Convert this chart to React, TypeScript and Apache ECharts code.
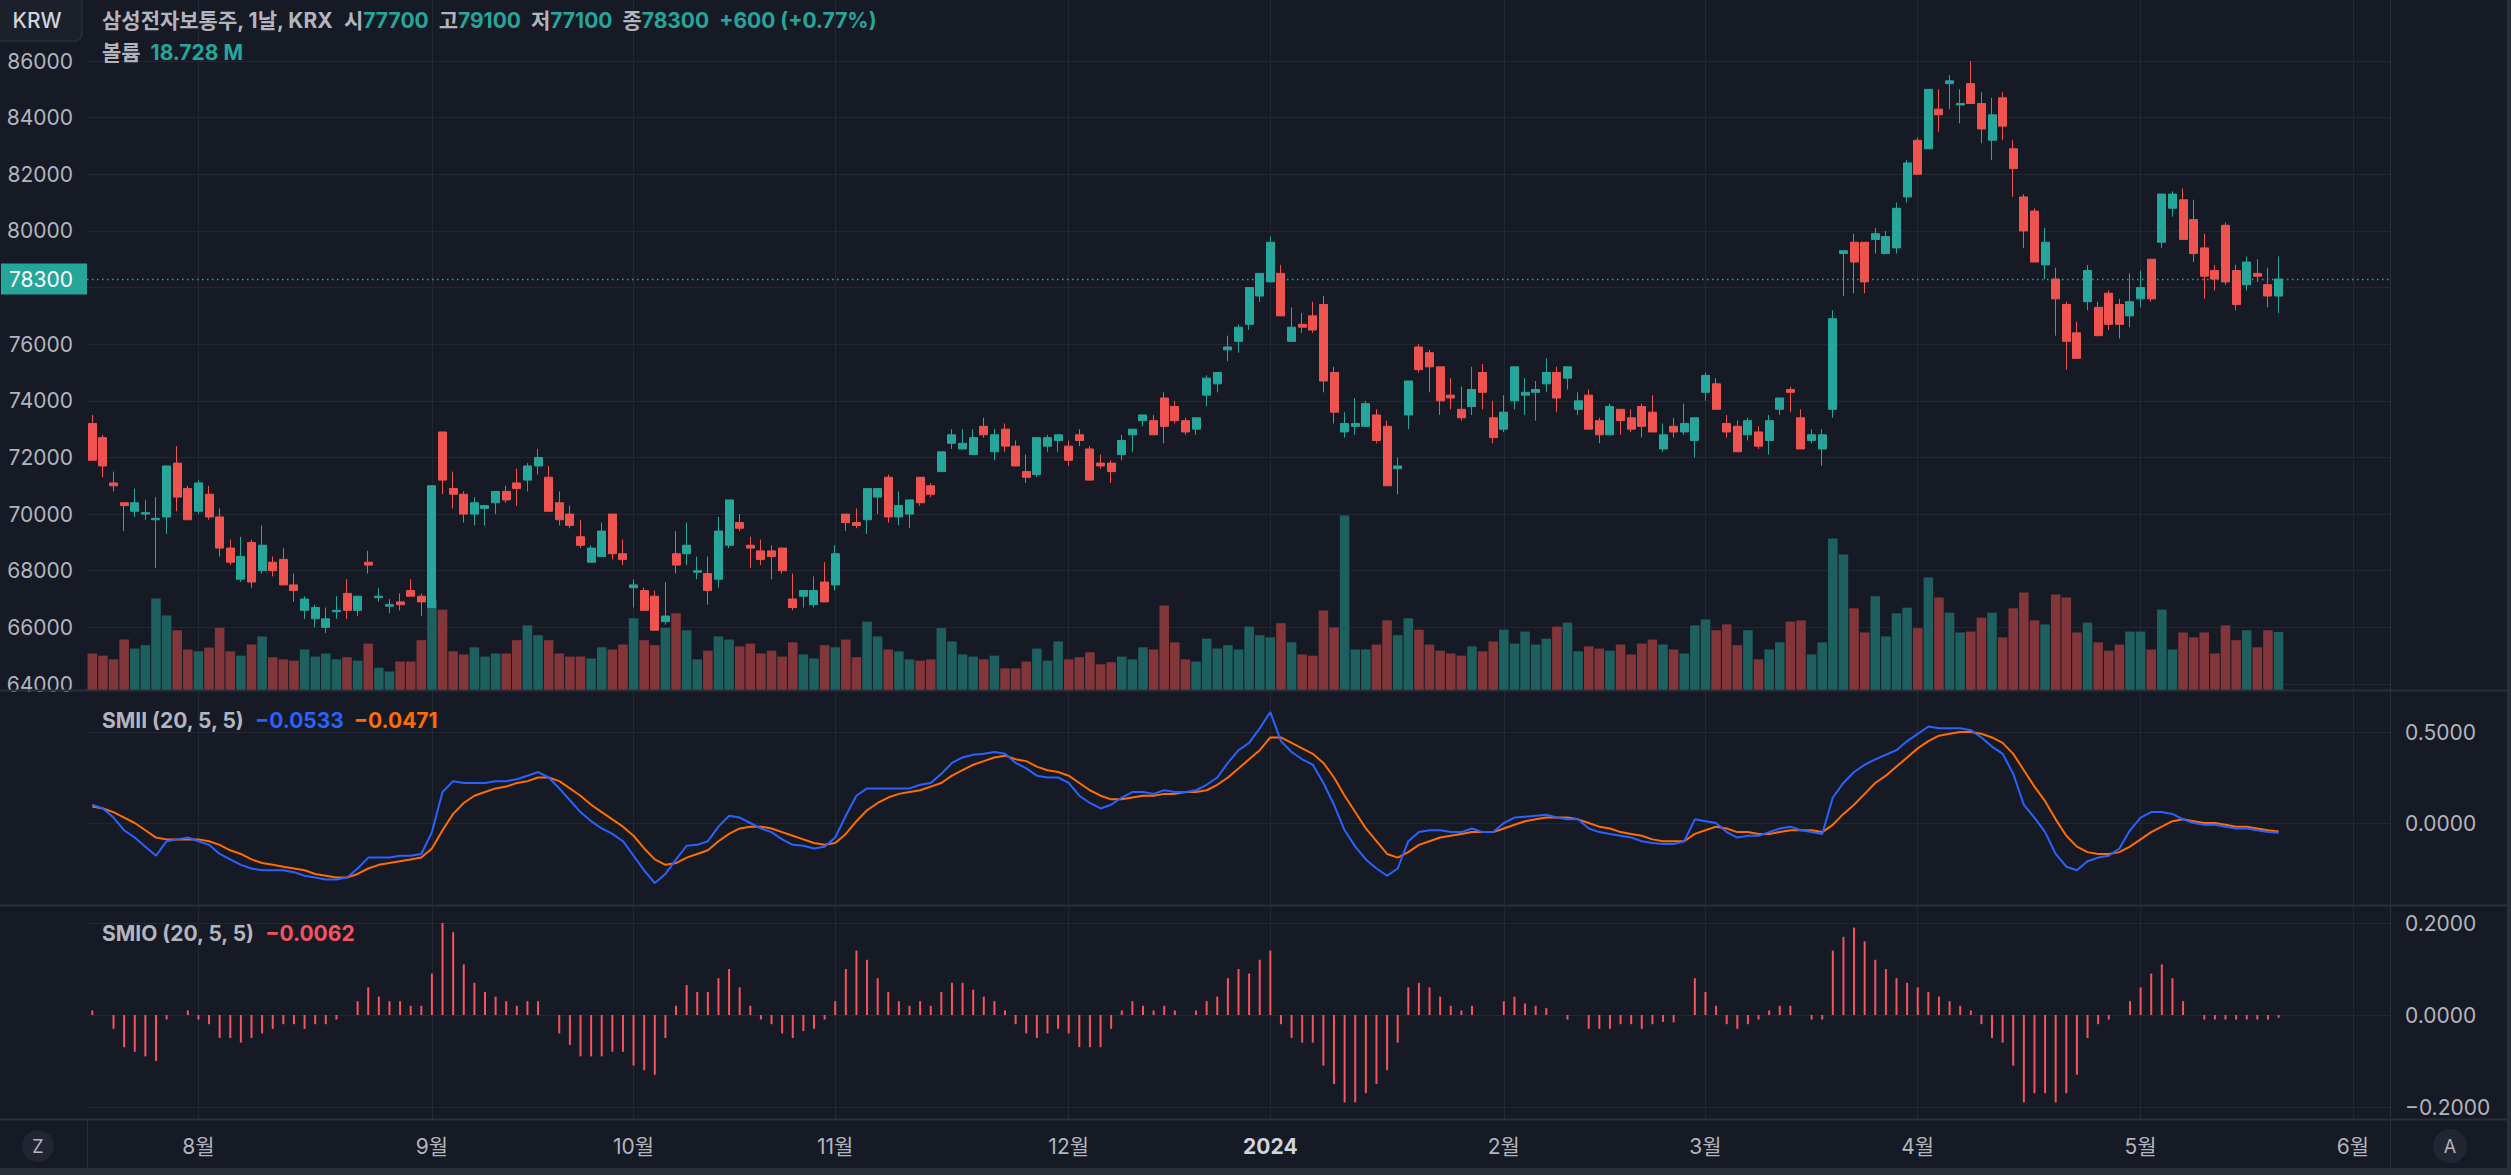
import React, { useEffect, useRef } from "react";
import * as echarts from "echarts";

const FONT = 'Inter, "Noto Sans CJK KR", "Noto Sans", sans-serif';

// ---------- data ----------
const openPrices = [73200,72700,71100,70400,70100,70000,69800,69900,71800,70900,
70100,70700,69900,68800,67700,69000,68000,68300,68400,67500,
66600,66300,66000,66550,67200,66600,68300,67050,66750,66900,
67300,67100,66700,72900,70900,70700,70000,70200,70400,70800,
71100,71200,71700,71300,70400,70000,69200,68300,68500,70000,
68600,67400,67300,67100,66200,68600,68600,67950,67900,67700,
68900,69700,68900,68700,68700,68800,67000,67100,66800,67600,
67500,70000,69700,69800,70600,71300,69900,70000,71300,71000,
71500,72500,72300,72100,73100,72200,73000,72400,71500,71400,
72400,72600,72400,72800,72300,71800,71800,72100,72800,73300,
73300,74100,73800,73300,73000,74200,74600,75800,76100,76700,
77700,78200,78500,76100,76700,77000,77400,75000,72900,73100,
73100,73500,73100,71600,73500,75900,75700,75200,74200,73700,
73800,75000,73400,73000,74000,74200,74300,74600,75000,74800,
73700,74200,73300,72800,73700,73400,73800,73600,72300,73100,
72900,72600,74300,74600,73200,73100,72800,72900,72600,73700,
74400,73400,72600,72300,73700,79200,79600,79600,79700,79200,
79400,81200,83200,82900,84300,85200,84450,85200,84500,83200,
84700,82900,81200,80700,78800,78300,77400,76400,77500,77300,
77800,77400,77000,77600,79000,79600,80800,81100,80400,79400,
78600,80200,78600,78100,78500,78100,77700];

const highPrices = [73500,72800,71500,70400,70900,70500,70600,71700,72400,71000,
71200,71000,70200,69100,69200,69100,69600,68500,68800,67900,
67100,66800,66700,67100,67700,67100,68700,67400,67000,67200,
67700,67200,71000,72900,71500,70800,70600,70300,70800,71000,
71600,71800,72300,71700,70800,70300,69800,68900,69700,70000,
69100,67700,67400,67300,67600,69400,69700,68500,68500,69900,
70500,70000,69200,69100,68900,68800,67900,67300,67800,68300,
68900,70000,70200,70900,70900,71400,70800,70500,71300,71100,
72200,73000,73000,73000,73400,73000,73200,72600,72100,72700,
72800,72800,72600,73000,72400,72100,71900,72800,73000,73500,
73500,74300,74000,73400,73400,74900,75000,76300,76700,78000,
78500,79800,78800,77300,77100,77500,77700,75200,73600,74100,
74000,73700,73300,72000,74700,76000,75800,75200,74800,74500,
75200,75300,74000,74200,75200,74800,74700,75500,75200,75200,
74300,74400,73400,73900,73700,73700,73900,74200,73200,73400,
73900,73400,75000,74800,73500,73300,73400,73100,73500,74100,
74500,73700,73000,73000,77200,79300,79900,79600,80100,80000,
81000,82500,83300,85000,85000,85500,85000,86000,84900,84700,
84900,83200,81300,80800,80100,78700,77500,76800,78800,77500,
77900,77600,78500,78600,79000,81300,81400,81500,81100,79900,
78800,80300,78800,79100,79000,78700,79100];

const lowPrices = [71900,71300,70800,69400,69900,69800,68100,69300,70100,69800,
70000,69800,68500,68200,67600,67400,67900,67800,67500,66900,
66300,66000,65800,66300,66300,66400,67900,66900,66500,66600,
67100,66400,66700,70700,70200,69700,69600,69600,70000,70400,
70300,70800,71400,70100,69600,69500,68800,68300,68500,68400,
68200,66700,66600,65900,66100,67900,68200,67700,66800,67400,
68800,69400,68100,68200,67700,67900,66600,66700,66700,66900,
67300,69400,69500,69300,70000,69700,69600,69500,70300,70600,
71500,72300,72300,72100,72700,71900,72200,71700,71100,71300,
72200,72200,71700,72400,71200,71600,71100,71900,72200,73100,
72800,72500,73200,72800,72800,73800,74300,75400,75700,76500,
77500,78200,77000,76100,76400,76400,74300,73200,72700,72800,
73100,72500,71000,70700,73000,75000,74300,73500,73700,73300,
73500,73700,72500,72900,73700,73500,73300,74300,73600,74400,
73500,73000,72500,72800,72800,72900,72700,72900,72200,72700,
72800,72000,74000,73700,72700,72200,72600,72300,72100,73500,
73600,72300,72500,71700,73400,77700,77800,77800,79200,79200,
79200,81000,82000,82900,83500,84300,83800,84500,83100,82500,
83200,81200,79400,78900,78300,76300,75100,75500,77200,76300,
76500,76200,76600,77300,77500,79400,80500,79700,78900,77600,
77900,78100,77200,77900,78200,77300,77100];

const closePrices = [71900,71700,71000,70300,70400,70050,69850,71700,70600,69800,
71100,69900,68800,68300,68500,67600,68900,68000,67500,67300,
67000,66700,66300,66600,66600,67100,68200,67100,66800,66800,
67100,66900,71000,71200,70700,70000,70400,70300,70800,70500,
70900,71700,72000,70100,69800,69600,68900,68800,69400,68600,
68400,67500,66600,65900,66400,68200,68900,68000,67300,69400,
70500,69500,68800,68400,68500,68000,66700,67300,67300,66900,
68600,69700,69600,70900,70900,69900,70300,70500,70400,70700,
72200,72800,72500,72700,72800,72800,72400,71700,71300,72700,
72700,72800,71900,72600,71200,71700,71500,72600,73000,73500,
72800,73100,73300,72900,73400,74800,75000,75900,76600,78000,
78500,79600,77000,76600,76600,76500,74700,73600,73200,73200,
73900,72600,71000,71700,74700,75100,75200,74000,74100,73400,
74400,74300,72700,73600,75200,74300,74400,75000,74100,75200,
74000,73000,72800,73800,73300,73000,73100,72900,72800,72900,
73200,73400,74900,73700,72900,72200,73300,72400,73300,74100,
74300,72300,72800,72800,76900,79300,78900,78200,79900,79800,
80800,82400,82000,85000,84100,85300,84500,84500,83600,84100,
83700,82200,80000,78900,79600,77600,76100,75500,78600,76300,
76700,76700,77500,78000,77600,81300,81300,79700,79200,78400,
78300,78200,77400,78900,78400,77700,78300];

// volume in millions
const volumes = [11.8,11.1,9.9,16.3,13.4,14.5,29.6,24.1,19.3,13.1,
12.5,13.7,20.1,12.5,11.1,14.7,17.3,10.6,9.9,9.5,
13.1,10.8,11.8,9.9,10.6,9.5,15.0,7.2,6.0,9.2,
9.2,16.1,29.2,26.0,12.5,11.5,13.8,10.8,11.8,11.8,
16.1,20.9,17.7,16.1,11.8,10.8,10.8,10.2,13.8,13.1,
14.7,23.2,16.1,14.5,20.1,24.8,19.3,9.9,12.7,17.3,
16.3,14.1,15.0,11.8,12.7,10.8,15.4,11.5,10.2,14.5,
13.8,16.3,10.6,22.1,17.3,13.1,12.5,9.9,9.5,9.9,
20.0,15.7,11.5,10.8,9.9,11.1,7.0,7.0,9.2,13.4,
9.5,15.7,9.9,10.6,12.2,8.3,9.0,10.8,9.9,13.8,
13.1,27.3,15.4,9.9,9.2,16.6,13.4,14.5,13.1,20.5,
17.7,17.0,21.6,15.4,11.5,11.1,25.7,20.2,56.4,13.1,
13.1,14.7,22.5,17.7,23.2,19.5,14.7,12.7,11.8,11.1,
14.1,12.5,15.7,19.5,15.0,18.9,14.7,16.6,20.5,21.8,
12.5,14.1,13.4,12.7,14.7,11.5,15.0,16.3,14.7,13.1,
11.8,20.9,22.8,19.3,21.2,14.5,19.3,9.9,13.1,15.4,
22.1,22.5,11.5,15.4,49.0,43.8,26.4,18.6,30.3,17.3,
24.8,26.6,20.0,36.4,29.9,25.0,18.6,18.9,23.4,25.0,
17.0,26.4,31.5,22.5,21.2,30.9,29.9,18.6,21.8,15.4,
12.7,14.7,18.9,18.9,13.1,26.0,13.1,18.6,17.0,18.6,
11.8,20.9,16.1,19.3,13.8,19.3,18.728];

const smiiValues = [0.10,0.08,0.03,-0.04,-0.08,-0.13,-0.18,-0.10,-0.09,-0.08,
-0.10,-0.12,-0.17,-0.20,-0.23,-0.25,-0.26,-0.26,-0.26,-0.27,
-0.29,-0.30,-0.31,-0.31,-0.30,-0.25,-0.19,-0.19,-0.19,-0.18,
-0.18,-0.17,-0.05,0.17,0.23,0.22,0.22,0.22,0.23,0.23,
0.24,0.26,0.28,0.25,0.19,0.125,0.06,0.01,-0.03,-0.06,
-0.10,-0.18,-0.26,-0.33,-0.28,-0.20,-0.125,-0.12,-0.10,-0.02,
0.04,0.03,0.00,-0.03,-0.05,-0.09,-0.12,-0.125,-0.14,-0.13,
-0.08,0.04,0.15,0.19,0.19,0.19,0.19,0.19,0.21,0.22,
0.27,0.33,0.36,0.375,0.38,0.39,0.38,0.33,0.30,0.26,
0.25,0.25,0.22,0.15,0.11,0.08,0.10,0.14,0.17,0.17,
0.16,0.18,0.17,0.17,0.18,0.21,0.25,0.33,0.40,0.44,
0.52,0.61,0.45,0.39,0.35,0.32,0.22,0.10,-0.04,-0.13,
-0.20,-0.25,-0.29,-0.25,-0.10,-0.05,-0.04,-0.04,-0.05,-0.05,
-0.03,-0.05,-0.05,0.00,0.03,0.035,0.04,0.045,0.03,0.02,
0.02,-0.03,-0.05,-0.06,-0.07,-0.08,-0.10,-0.11,-0.115,-0.116,
-0.10,0.02,0.01,0.00,-0.05,-0.08,-0.07,-0.07,-0.05,-0.03,
-0.02,-0.04,-0.05,-0.06,0.14,0.22,0.28,0.32,0.35,0.375,
0.40,0.45,0.49,0.53,0.52,0.52,0.52,0.51,0.47,0.42,
0.38,0.27,0.10,0.03,-0.05,-0.17,-0.24,-0.26,-0.21,-0.19,
-0.18,-0.14,-0.04,0.03,0.06,0.06,0.05,0.02,0.00,-0.01,
-0.01,-0.02,-0.03,-0.03,-0.04,-0.05,-0.0533];

const smiiSignal = [0.09,0.08,0.06,0.03,0.00,-0.04,-0.08,-0.09,-0.09,-0.09,
-0.09,-0.10,-0.12,-0.15,-0.17,-0.20,-0.22,-0.23,-0.24,-0.25,
-0.26,-0.28,-0.29,-0.30,-0.30,-0.28,-0.25,-0.23,-0.22,-0.21,
-0.20,-0.19,-0.14,-0.04,0.05,0.11,0.15,0.17,0.19,0.20,
0.22,0.23,0.25,0.25,0.23,0.19,0.15,0.10,0.06,0.02,
-0.02,-0.07,-0.14,-0.20,-0.23,-0.22,-0.19,-0.17,-0.15,-0.10,
-0.06,-0.03,-0.02,-0.02,-0.03,-0.05,-0.07,-0.09,-0.11,-0.12,
-0.11,-0.06,0.01,0.07,0.11,0.14,0.16,0.17,0.18,0.20,
0.22,0.26,0.29,0.32,0.34,0.36,0.37,0.35,0.34,0.31,
0.29,0.28,0.26,0.22,0.18,0.15,0.13,0.13,0.14,0.15,
0.15,0.16,0.16,0.17,0.17,0.18,0.21,0.25,0.30,0.35,
0.40,0.47,0.47,0.44,0.41,0.38,0.33,0.25,0.15,0.06,
-0.03,-0.10,-0.17,-0.19,-0.16,-0.12,-0.10,-0.08,-0.07,-0.06,
-0.05,-0.05,-0.05,-0.03,-0.01,0.01,0.02,0.03,0.03,0.03,
0.02,0.00,-0.02,-0.03,-0.05,-0.06,-0.07,-0.09,-0.10,-0.10,
-0.10,-0.06,-0.04,-0.02,-0.03,-0.05,-0.05,-0.06,-0.06,-0.05,
-0.04,-0.04,-0.04,-0.05,-0.01,0.05,0.10,0.16,0.22,0.26,
0.31,0.36,0.41,0.45,0.48,0.49,0.50,0.50,0.49,0.47,
0.44,0.38,0.29,0.20,0.12,0.02,-0.07,-0.13,-0.16,-0.17,
-0.17,-0.16,-0.13,-0.09,-0.05,-0.02,0.01,0.02,0.01,0.00,
0.00,-0.01,-0.02,-0.02,-0.03,-0.04,-0.0471];

const smioValues = [0.01,0.00,-0.03,-0.07,-0.08,-0.09,-0.10,-0.01,0.00,0.01,
-0.01,-0.02,-0.05,-0.05,-0.06,-0.05,-0.04,-0.03,-0.02,-0.02,
-0.03,-0.02,-0.02,-0.01,0.00,0.03,0.06,0.04,0.03,0.03,
0.02,0.02,0.09,0.21,0.18,0.11,0.07,0.05,0.04,0.03,
0.02,0.03,0.03,0.00,-0.04,-0.065,-0.09,-0.09,-0.09,-0.08,
-0.08,-0.11,-0.12,-0.13,-0.05,0.02,0.065,0.05,0.05,0.08,
0.10,0.06,0.02,-0.01,-0.02,-0.04,-0.05,-0.035,-0.03,-0.01,
0.03,0.10,0.14,0.12,0.08,0.05,0.03,0.02,0.03,0.02,
0.05,0.07,0.07,0.055,0.04,0.03,0.01,-0.02,-0.04,-0.05,
-0.04,-0.03,-0.04,-0.07,-0.07,-0.07,-0.03,0.01,0.03,0.02,
0.01,0.02,0.01,0.00,0.01,0.03,0.04,0.08,0.10,0.09,
0.12,0.14,-0.02,-0.05,-0.06,-0.06,-0.11,-0.15,-0.19,-0.19,
-0.17,-0.15,-0.12,-0.06,0.06,0.07,0.06,0.04,0.02,0.01,
0.02,0.00,0.00,0.03,0.04,0.025,0.02,0.015,0.00,-0.01,
0.00,-0.03,-0.03,-0.03,-0.02,-0.02,-0.03,-0.02,-0.015,-0.016,
0.00,0.08,0.05,0.02,-0.02,-0.03,-0.02,-0.01,0.01,0.02,
0.02,0.00,-0.01,-0.01,0.14,0.17,0.19,0.16,0.12,0.10,
0.08,0.07,0.06,0.05,0.04,0.03,0.02,0.01,-0.02,-0.05,
-0.06,-0.11,-0.19,-0.17,-0.17,-0.19,-0.17,-0.13,-0.05,-0.02,
-0.01,0.00,0.03,0.06,0.09,0.11,0.08,0.03,0.00,-0.01,
-0.01,-0.01,-0.01,-0.01,-0.01,-0.01,-0.0062];

// x axis: month boundaries (bar index of first trading day) and their labels
const monthTickIdx = [10, 32, 51, 70, 92, 111, 133, 152, 172, 193, 213];
const monthTickLabels = ["8월", "9월", "10월", "11월", "12월", "2024", "2월", "3월", "4월", "5월", "6월"];
const slotCount = 217; // bars + empty space on the right

// axis ranges
const priceMin = 64000, priceMax = 86000, priceStep = 2000;
const volumeMax = 80.8;
const smiiMin = 0, smiiMax = 0.5, smiiStep = 0.5;
const smioMin = -0.2, smioMax = 0.2, smioStep = 0.2;

const symbolName = "삼성전자보통주, 1날, KRX";
const indicatorParams = "(20, 5, 5)";

// ---------- styling ----------
const BG = "#161a25";
const UP = "#26a69a";
const DOWN = "#ef5350";
const VOL_UP = "#1e605f";
const VOL_DOWN = "#82363a";
const GRID = "#232734";
const SEP = "#2a2e39";
const TXT = "#b2b5be";
const BLUE = "#2962ff";
const ORANGE = "#ff6d00";
const SMIO_RED = "#f7525f";
const FS = 21;

const L = 87;
const GW = 2303;

function fmt4(v: number) {
  return (v < 0 ? "−" : "") + Math.abs(v).toFixed(4);
}

export default function App() {
  const ref = useRef<HTMLDivElement>(null);

  useEffect(() => {
    if (!ref.current) return;
    const chart = echarts.init(ref.current, null, { renderer: "svg", width: 2511, height: 1175 });

    const n = closePrices.length;
    const last = n - 1;
    const lastClose = closePrices[last];
    const categories = Array.from({ length: slotCount }, (_, i) => String(i));
    const candleData = closePrices.map((c, i) => [openPrices[i], c, lowPrices[i], highPrices[i]]);
    const volData = volumes.map((v, i) => ({
      value: v,
      itemStyle: { color: closePrices[i] >= openPrices[i] ? VOL_UP : VOL_DOWN },
    }));
    const chg = lastClose - closePrices[last - 1];
    const pct = (chg / closePrices[last - 1]) * 100;
    const sgn = chg >= 0 ? "+" : "−";
    const slotW = GW / slotCount;

    const baseText = { fontFamily: FONT, fontSize: FS };
    const rich = {
      g: { ...baseText, color: TXT },
      t: { ...baseText, color: UP },
      b: { ...baseText, color: BLUE },
      o: { ...baseText, color: ORANGE },
      r: { ...baseText, color: SMIO_RED },
    };

    const header =
      `{g|${symbolName}}  {g|시}{t|${openPrices[last]}}  {g|고}{t|${highPrices[last]}}  ` +
      `{g|저}{t|${lowPrices[last]}}  {g|종}{t|${lastClose}}  ` +
      `{t|${sgn}${Math.abs(chg)} (${sgn}${Math.abs(pct).toFixed(2)}%)}`;

    const hiddenX = (gridIndex: number) => ({
      type: "category",
      gridIndex,
      data: categories,
      boundaryGap: true,
      axisLine: { show: false },
      axisTick: { show: false },
      axisLabel: { show: false },
      splitLine: { show: false },
    });

    const option: any = {
      animation: false,
      backgroundColor: BG,
      textStyle: { fontFamily: FONT },
      title: [
        { left: 102, top: 8, padding: 0, text: header, textStyle: { ...baseText, color: TXT, lineHeight: 24, rich } },
        {
          left: 102, top: 40, padding: 0,
          text: `{g|볼륨}  {t|${volumes[last].toFixed(3)} M}`,
          textStyle: { ...baseText, color: TXT, lineHeight: 24, rich },
        },
        {
          left: 102, top: 708, padding: 0,
          text: `{g|SMII ${indicatorParams}}  {b|${fmt4(smiiValues[last])}}  {o|${fmt4(smiiSignal[last])}}`,
          textStyle: { ...baseText, color: TXT, lineHeight: 24, rich },
        },
        {
          left: 102, top: 921, padding: 0,
          text: `{g|SMIO ${indicatorParams}}  {r|${fmt4(smioValues[last])}}`,
          textStyle: { ...baseText, color: TXT, lineHeight: 24, rich },
        },
      ],
      grid: [
        { left: L, width: GW, top: 61, height: 623 },
        { left: L, width: GW, top: 440, height: 250 },
        { left: L, width: GW, top: 732, height: 91 },
        { left: L, width: GW, top: 923, height: 184 },
        { left: L + slotW / 2, width: GW - slotW, top: 0, height: 1119 },
      ],
      xAxis: [
        hiddenX(0),
        hiddenX(1),
        hiddenX(2),
        {
          ...hiddenX(3),
          axisLabel: {
            show: true,
            margin: 29,
            color: TXT,
            fontSize: FS,
            fontFamily: FONT,
            interval: (idx: number) => monthTickIdx.includes(idx),
            formatter: (val: string) => {
              const k = monthTickIdx.indexOf(Number(val));
              const lab = k >= 0 ? monthTickLabels[k] : "";
              return /^\d{4}$/.test(lab) ? `{y|${lab}}` : lab;
            },
            rich: { y: { fontFamily: FONT, fontSize: FS, fontWeight: "bold", color: "#d1d4dc" } },
          },
        },
        {
          type: "category",
          gridIndex: 4,
          data: categories,
          boundaryGap: false,
          axisLine: { show: false },
          axisTick: { show: false },
          axisLabel: { show: false },
          splitLine: {
            show: true,
            interval: (idx: number) => monthTickIdx.includes(idx),
            lineStyle: { color: GRID, width: 1 },
          },
        },
      ],
      yAxis: [
        {
          type: "value", gridIndex: 0, position: "left",
          min: priceMin, max: priceMax, interval: priceStep,
          axisLine: { show: false }, axisTick: { show: false },
          axisLabel: {
            color: TXT, fontSize: FS, fontFamily: FONT, margin: 14,
            // the last-price tag covers the level next to it
            formatter: (v: number) => (Math.abs(v - lastClose) < priceStep / 2 ? "" : String(v)),
          },
          splitLine: { lineStyle: { color: GRID, width: 1 } },
        },
        { type: "value", gridIndex: 1, min: 0, max: volumeMax, show: false, splitLine: { show: false } },
        {
          type: "value", gridIndex: 2, position: "right",
          min: smiiMin, max: smiiMax, interval: smiiStep,
          axisLine: { show: false }, axisTick: { show: false },
          axisLabel: { color: TXT, fontSize: FS, fontFamily: FONT, margin: 15, formatter: (v: number) => fmt4(v) },
          splitLine: { lineStyle: { color: GRID, width: 1 } },
        },
        {
          type: "value", gridIndex: 3, position: "right",
          min: smioMin, max: smioMax, interval: smioStep,
          axisLine: { show: false }, axisTick: { show: false },
          axisLabel: { color: TXT, fontSize: FS, fontFamily: FONT, margin: 15, formatter: (v: number) => fmt4(v) },
          splitLine: { lineStyle: { color: GRID, width: 1 } },
        },
        { type: "value", gridIndex: 4, min: 0, max: 1, show: false, splitLine: { show: false } },
      ],
      series: [
        {
          type: "bar",
          name: "volume",
          xAxisIndex: 1,
          yAxisIndex: 1,
          data: volData,
          barWidth: "90%",
          z: 1,
        },
        {
          type: "candlestick",
          name: "price",
          xAxisIndex: 0,
          yAxisIndex: 0,
          data: candleData,
          barWidth: "80%",
          clip: false,
          z: 3,
          itemStyle: { color: UP, color0: DOWN, borderColor: UP, borderColor0: DOWN, borderWidth: 1 },
          markLine: {
            silent: true,
            symbol: ["none", "none"],
            z: 10,
            lineStyle: { color: UP, type: [1.5, 3.5], width: 1.3 },
            label: {
              show: true,
              position: "start",
              distance: 0,
              formatter: String(lastClose),
              backgroundColor: UP,
              color: "#ffffff",
              fontSize: FS,
              fontFamily: FONT,
              padding: [5, 14, 5, 8],
            },
            data: [{ yAxis: lastClose }],
          },
        },
        {
          type: "line",
          name: "SMII",
          xAxisIndex: 2,
          yAxisIndex: 2,
          data: smiiValues,
          symbol: "none",
          clip: false,
          lineStyle: { color: BLUE, width: 2 },
          z: 4,
        },
        {
          type: "line",
          name: "Signal",
          xAxisIndex: 2,
          yAxisIndex: 2,
          data: smiiSignal,
          symbol: "none",
          clip: false,
          lineStyle: { color: ORANGE, width: 2 },
          z: 3,
        },
        {
          type: "bar",
          name: "SMIO",
          xAxisIndex: 3,
          yAxisIndex: 3,
          data: smioValues,
          barWidth: 2,
          itemStyle: { color: SMIO_RED },
        },
      ],
      graphic: [
        // pane separators
        { type: "line", z: 50, silent: true, shape: { x1: 0, y1: 690.5, x2: 2507, y2: 690.5 }, style: { stroke: SEP, lineWidth: 2 } },
        { type: "line", z: 50, silent: true, shape: { x1: 0, y1: 905.5, x2: 2507, y2: 905.5 }, style: { stroke: SEP, lineWidth: 2 } },
        { type: "line", z: 50, silent: true, shape: { x1: 0, y1: 1119.5, x2: 2507, y2: 1119.5 }, style: { stroke: SEP, lineWidth: 2 } },
        { type: "line", z: 50, silent: true, shape: { x1: 2390.5, y1: 0, x2: 2390.5, y2: 1168 }, style: { stroke: SEP, lineWidth: 1 } },
        { type: "line", z: 50, silent: true, shape: { x1: 87.5, y1: 1119, x2: 87.5, y2: 1168 }, style: { stroke: SEP, lineWidth: 1 } },
        { type: "rect", z: 50, silent: true, shape: { x: 0, y: 1168, width: 2511, height: 7 }, style: { fill: SEP } },
        { type: "rect", z: 50, silent: true, shape: { x: 2507, y: 0, width: 4, height: 1175 }, style: { fill: SEP } },
        // currency box
        { type: "rect", z: 60, silent: true, shape: { x: -6, y: -6, width: 88, height: 47, r: 7 }, style: { fill: "#1c202b", stroke: SEP, lineWidth: 1.5 } },
        { type: "text", z: 61, silent: true, x: 37, y: 20, style: { text: "KRW", fill: "#d1d4dc", font: `500 ${FS}px ${FONT}`, align: "center", verticalAlign: "middle" } },
        // corner buttons
        { type: "circle", z: 60, silent: true, shape: { cx: 38, cy: 1146, r: 16 }, style: { fill: "#222633" } },
        { type: "text", z: 61, silent: true, x: 38, y: 1146, style: { text: "Z", fill: TXT, font: `18px ${FONT}`, align: "center", verticalAlign: "middle" } },
        { type: "circle", z: 60, silent: true, shape: { cx: 2450, cy: 1146, r: 17 }, style: { fill: "#222633" } },
        { type: "text", z: 61, silent: true, x: 2450, y: 1146, style: { text: "A", fill: TXT, font: `18px ${FONT}`, align: "center", verticalAlign: "middle" } },
      ],
    };

    chart.setOption(option);
    return () => chart.dispose();
  }, []);

  return (
    <div
      ref={ref}
      style={{ position: "fixed", left: 0, top: 0, width: 2511, height: 1175, background: BG }}
    />
  );
}
